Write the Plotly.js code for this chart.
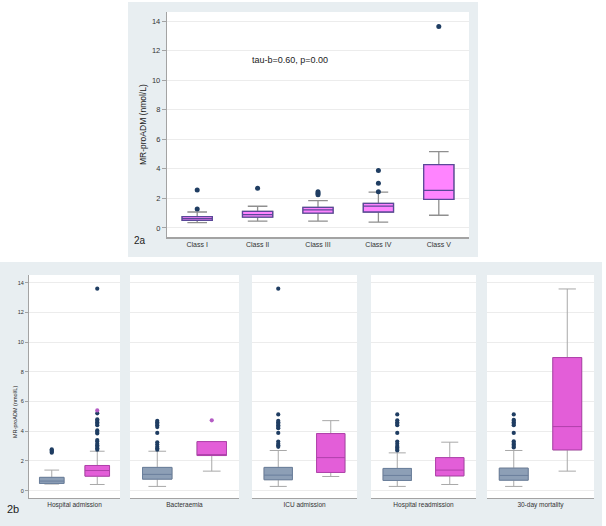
<!DOCTYPE html>
<html>
<head>
<meta charset="utf-8">
<script src="https://cdn.plot.ly/plotly-3.0.1.min.js"></script>
<style>html,body{margin:0;padding:0;background:#fff;}#chart{width:606px;height:526px;}</style>
</head>
<body>
<div id="chart"></div>
<script>
// ---------- Data: figure 2a ----------
const topCategories = ['Class I', 'Class II', 'Class III', 'Class IV', 'Class V'];
const topLower  = [0.36, 0.47, 0.47, 0.40, 0.86];
const topQ1     = [0.52, 0.74, 1.01, 1.08, 1.94];
const topMedian = [0.63, 0.90, 1.22, 1.48, 2.55];
const topQ3     = [0.77, 1.13, 1.40, 1.67, 4.28];
const topUpper  = [1.08, 1.47, 1.85, 2.43, 5.16];
const topOutliers = [
  [1.28, 2.57],
  [2.68],
  [2.25, 2.35, 2.45],
  [2.45, 3.02, 3.88],
  [13.63]
];
const topAnnotation = 'tau-b=0.60, p=0.00';

// ---------- Data: figure 2b ----------
const outcomes = ['Hospital admission', 'Bacteraemia', 'ICU admission', 'Hospital readmission', '30-day mortality'];
const noLower  = [0.44, 0.28, 0.28, 0.28, 0.28];
const noQ1     = [0.48, 0.77, 0.73, 0.68, 0.70];
const noMedian = [0.64, 1.09, 1.04, 1.02, 1.02];
const noQ3     = [0.89, 1.56, 1.56, 1.49, 1.51];
const noUpper  = [1.38, 2.65, 2.70, 2.54, 2.70];
const yesLower  = [0.41, 1.31, 0.95, 0.41, 1.31];
const yesQ1     = [0.97, 2.36, 1.22, 0.99, 2.74];
const yesMedian = [1.35, 2.40, 2.22, 1.38, 4.31];
const yesQ3     = [1.69, 3.30, 3.84, 2.22, 8.96];
const yesUpper  = [2.65, 3.30, 4.71, 3.26, 13.58];
const noOutliers = [
  [2.55, 2.62, 2.70, 2.78],
  [2.75, 2.85, 2.95, 3.10, 3.25, 3.88, 4.28, 4.40, 4.50, 4.60, 4.70],
  [2.95, 3.05, 3.15, 3.30, 3.88, 4.20, 4.30, 4.40, 4.50, 4.60, 4.70, 5.13, 13.60],
  [2.70, 2.80, 2.90, 3.00, 3.15, 3.30, 3.88, 4.40, 4.50, 4.60, 4.73, 5.13],
  [2.90, 3.00, 3.10, 3.20, 3.32, 3.88, 4.40, 4.50, 4.60, 4.70, 4.77, 5.13]
];
const yesOutliers = [
  [2.75, 2.85, 2.95, 3.05, 3.15, 3.30, 3.40, 3.85, 3.95, 4.05, 4.40, 4.50, 4.60, 4.70, 4.80, 5.20, 13.60],
  [],
  [],
  [],
  []
];
const yesOutliersViolet = [[5.40], [4.73], [], [], []];
const groupPositions = [0, 1];

// ---------- Layout helpers (pixel -> paper) ----------
const W = 606, H = 526;
const px = v => v / W;
const py = v => 1 - v / H;
const FONT = 'Liberation Sans, Arial, sans-serif';

const navy = '#1f3d62';
const traces = [];

function boxTraces(xa, ya, xs, lo, q1, med, q3, hi, fill, line, whisk, width, ww, lw) {
  // whiskers (gray)
  traces.push({
    type: 'box', xaxis: xa, yaxis: ya, x: xs,
    q1: q1, median: med, q3: q3, lowerfence: lo, upperfence: hi,
    boxpoints: false, width: width, whiskerwidth: ww,
    fillcolor: 'rgba(0,0,0,0)', line: {color: whisk, width: lw},
    hoverinfo: 'skip', showlegend: false
  });
  // box body (colored)
  traces.push({
    type: 'box', xaxis: xa, yaxis: ya, x: xs,
    q1: q1, median: med, q3: q3, lowerfence: q1, upperfence: q3,
    boxpoints: false, width: width, whiskerwidth: 0.001,
    fillcolor: fill, line: {color: line, width: lw},
    hoverinfo: 'skip', showlegend: false
  });
}

function outlierTrace(xa, ya, xs, ys, color, size) {
  traces.push({
    type: 'scatter', mode: 'markers', xaxis: xa, yaxis: ya,
    x: xs, y: ys, marker: {color: color, size: size},
    hoverinfo: 'skip', showlegend: false, cliponaxis: false
  });
}

// Figure 2a
boxTraces('x', 'y', topCategories, topLower, topQ1, topMedian, topQ3, topUpper,
  '#ff84ff', '#5a4899', '#8f8f8f', 0.5, 0.65, 1.3);
topOutliers.forEach((arr, i) => {
  outlierTrace('x', 'y', arr.map(() => topCategories[i]), arr, navy, 5);
});

// Figure 2b
const panelPx = [[29, 120], [130, 239], [252, 357], [371, 476], [487, 594]];
const layout = {
  width: W, height: H,
  margin: {l: 0, r: 0, t: 0, b: 0},
  paper_bgcolor: '#e8eef1',
  plot_bgcolor: '#ffffff',
  boxmode: 'overlay',
  showlegend: false,
  font: {family: FONT, color: '#333'},
  xaxis: {
    domain: [px(167), px(469)], anchor: 'y', type: 'category',
    range: [-0.5, 4.5], showgrid: false, zeroline: false,
    showline: true, linecolor: '#a3a3a3', linewidth: 1.5, ticks: '',
    tickfont: {size: 7, family: FONT, color: '#333'}
  },
  yaxis: {
    domain: [py(237), py(12)], anchor: 'x', range: [-0.61, 14.61],
    tick0: 0, dtick: 2, showgrid: true, gridcolor: '#ececec', gridwidth: 1,
    zeroline: false, showline: true, linecolor: '#a3a3a3', linewidth: 1.2,
    ticks: 'outside', ticklen: 4, tickcolor: '#a3a3a3',
    tickfont: {size: 7.5, family: FONT, color: '#333'}
  },
  yaxis2: {
    domain: [py(498), py(275)], anchor: 'x2', range: [-0.5, 14.52],
    tick0: 0, dtick: 2, showgrid: true, gridcolor: '#ececec', gridwidth: 1,
    zeroline: false, showline: true, linecolor: '#a3a3a3', linewidth: 1,
    ticks: 'outside', ticklen: 3, tickcolor: '#a3a3a3',
    tickfont: {size: 5.5, family: FONT, color: '#333'}
  },
  shapes: [],
  annotations: []
};

outcomes.forEach((name, i) => {
  const n = i + 2;
  const xa = 'x' + n;
  layout['xaxis' + n] = {
    domain: [px(panelPx[i][0]), px(panelPx[i][1])], anchor: 'y2',
    range: [-0.5, 1.5], showgrid: false, zeroline: false,
    showline: true, linecolor: '#a3a3a3', linewidth: 1.2, ticks: '',
    tickvals: [0.5], ticktext: [name],
    tickfont: {size: 6.5, family: FONT, color: '#333'}
  };
  // whiskers for both groups
  traces.push({
    type: 'box', xaxis: xa, yaxis: 'y2', x: groupPositions,
    q1: [noQ1[i], yesQ1[i]], median: [noMedian[i], yesMedian[i]], q3: [noQ3[i], yesQ3[i]],
    lowerfence: [noLower[i], yesLower[i]], upperfence: [noUpper[i], yesUpper[i]],
    boxpoints: false, width: 0.54, whiskerwidth: 0.6,
    fillcolor: 'rgba(0,0,0,0)', line: {color: '#a8a8a8', width: 1},
    hoverinfo: 'skip', showlegend: false
  });
  traces.push({
    type: 'box', xaxis: xa, yaxis: 'y2', x: [groupPositions[0]],
    q1: [noQ1[i]], median: [noMedian[i]], q3: [noQ3[i]],
    lowerfence: [noQ1[i]], upperfence: [noQ3[i]],
    boxpoints: false, width: 0.54, whiskerwidth: 0.001,
    fillcolor: '#8d9fb6', line: {color: '#6a7f9c', width: 1},
    hoverinfo: 'skip', showlegend: false
  });
  traces.push({
    type: 'box', xaxis: xa, yaxis: 'y2', x: [groupPositions[1]],
    q1: [yesQ1[i]], median: [yesMedian[i]], q3: [yesQ3[i]],
    lowerfence: [yesQ1[i]], upperfence: [yesQ3[i]],
    boxpoints: false, width: 0.54, whiskerwidth: 0.001,
    fillcolor: '#e35ed8', line: {color: '#b040ab', width: 1},
    hoverinfo: 'skip', showlegend: false
  });
  outlierTrace(xa, 'y2', noOutliers[i].map(() => groupPositions[0]), noOutliers[i], navy, 4.2);
  outlierTrace(xa, 'y2', yesOutliers[i].map(() => groupPositions[1]), yesOutliers[i], navy, 4.2);
  outlierTrace(xa, 'y2', yesOutliersViolet[i].map(() => groupPositions[1]), yesOutliersViolet[i], '#b45cc4', 4.2);
});

// white page regions around the grey panels
function whiteRect(x0, y0, x1, y1) {
  layout.shapes.push({
    type: 'rect', xref: 'paper', yref: 'paper', layer: 'below',
    x0: px(x0), x1: px(x1), y0: py(y1), y1: py(y0),
    fillcolor: '#ffffff', line: {width: 0}
  });
}
whiteRect(0, 0, 128, 262);
whiteRect(478, 0, 606, 262);
whiteRect(0, 257, 606, 262);
whiteRect(0, 0, 606, 2);
whiteRect(602, 257, 606, 526);

// text annotations
function note(text, x, y, size, opts) {
  layout.annotations.push(Object.assign({
    text: text, xref: 'paper', yref: 'paper', x: px(x), y: py(y),
    showarrow: false, font: {size: size, family: FONT, color: '#222'},
    xanchor: 'center', yanchor: 'middle'
  }, opts || {}));
}
note('MR-proADM (nmol/L)', 143, 125, 8.5, {textangle: -90});
note(topAnnotation, 250, 60, 9, {xanchor: 'left'});
note('2a', 140, 240, 10);
note('MR-proADM (nmol/L)', 15, 412, 5.5, {textangle: -90});
note('2b', 13, 509, 11);

Plotly.newPlot('chart', traces, layout, {displayModeBar: false, staticPlot: true});
</script>
</body>
</html>
